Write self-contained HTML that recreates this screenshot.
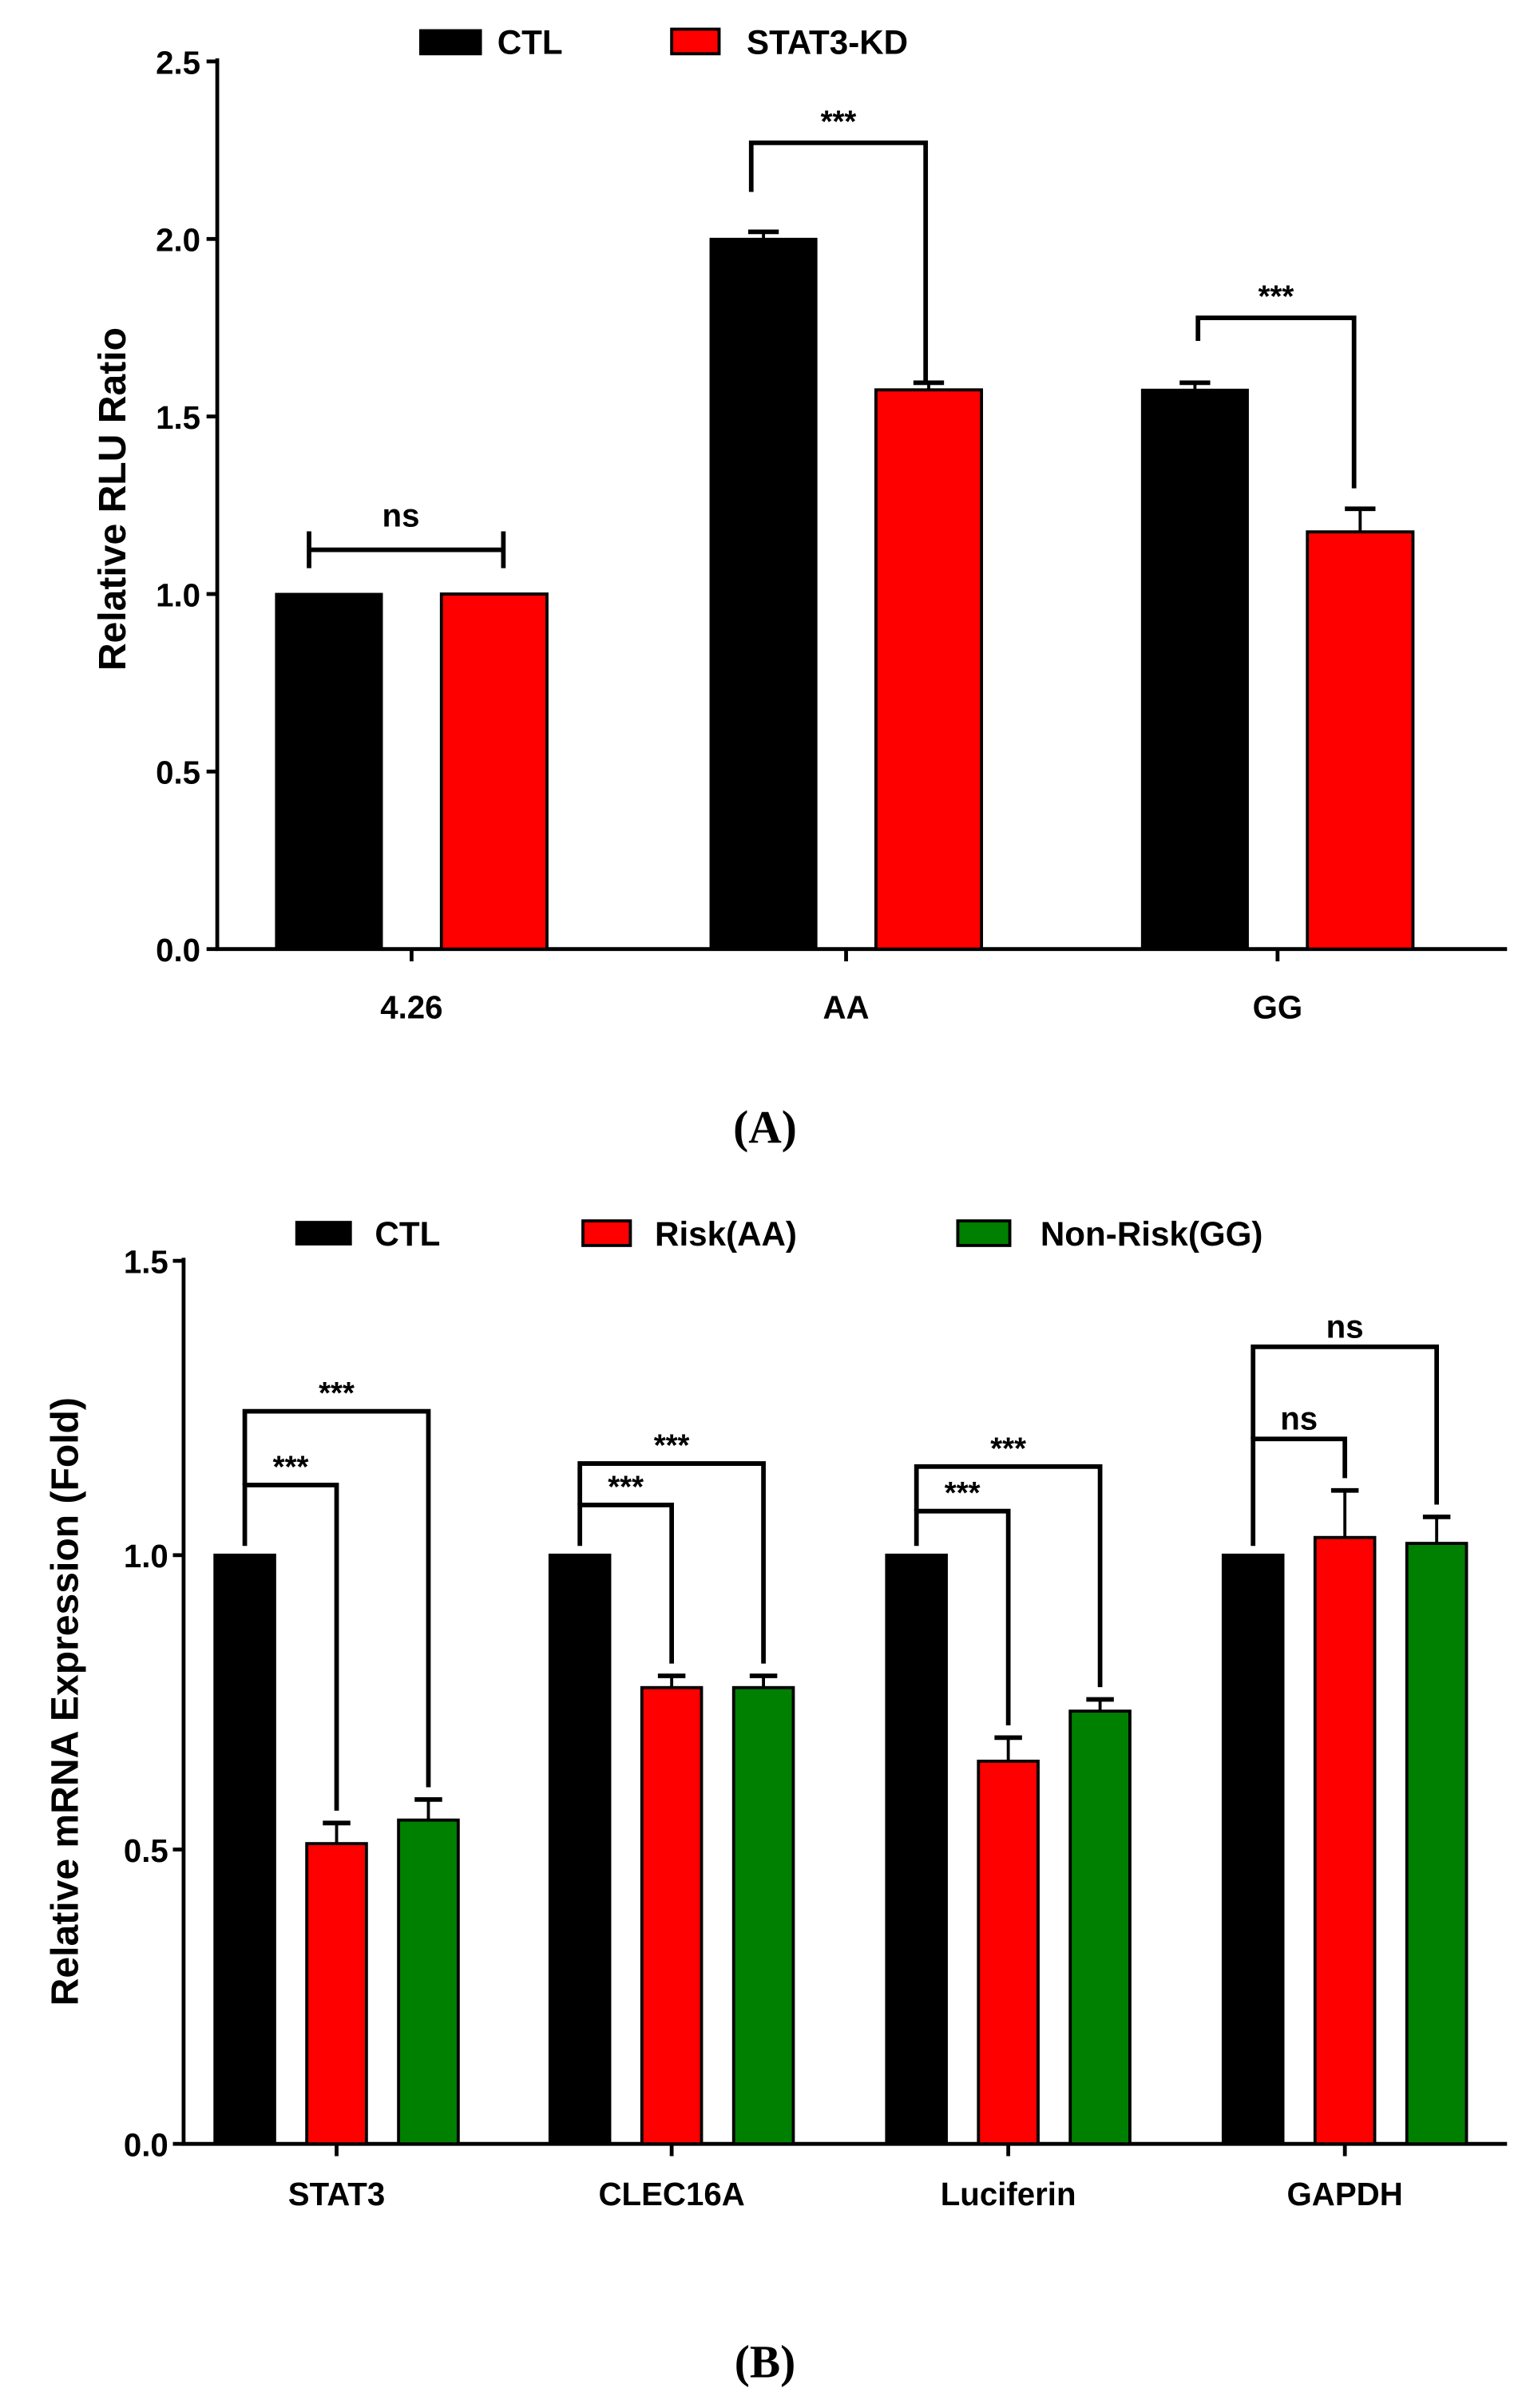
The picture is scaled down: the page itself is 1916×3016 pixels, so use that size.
<!DOCTYPE html>
<html><head><meta charset="utf-8">
<style>
html,body{margin:0;padding:0;background:#fff;}
svg{display:block;}
text{font-family:"Liberation Sans",Arial,sans-serif;font-weight:bold;fill:#000;}
.cap{font-family:"Liberation Serif",serif;font-weight:bold;}
</style></head>
<body>
<svg id="fig" width="1916" height="3016" viewBox="0 0 1000 1568" preserveAspectRatio="none" xmlns="http://www.w3.org/2000/svg"></svg>
<script>
// ---- Chart A data ----
const catsA = ["4.26","AA","GG"];
const ctlA = [1.0, 2.0, 1.575];
const ctlErrA = [0, 0.02, 0.02];
const kdA = [1.0, 1.575, 1.175];
const kdErrA = [0, 0.02, 0.065];
const ticksA = ["0.0","0.5","1.0","1.5","2.0","2.5"];
const ticksAVal = [0,0.5,1,1.5,2,2.5];
// ---- Chart B data ----
const catsB = ["STAT3","CLEC16A","Luciferin","GAPDH"];
const ctlB = [1,1,1,1];
const ctlErrB = [0,0,0,0];
const riskB = [0.51,0.775,0.65,1.03];
const riskErrB = [0.035,0.02,0.04,0.08];
const nonB = [0.55,0.775,0.735,1.02];
const nonErrB = [0.035,0.02,0.02,0.045];
const ticksB = ["0.0","0.5","1.0","1.5"];
const ticksBVal = [0,0.5,1,1.5];
const sigB1 = ["***","***","***","ns"];
const sigB2 = ["***","***","***","ns"];

const NS="http://www.w3.org/2000/svg";
const svg=document.getElementById('fig');
function mk(tag,attrs,parent){const e=document.createElementNS(NS,tag);for(const k in attrs)e.setAttribute(k,attrs[k]);(parent||svg).appendChild(e);return e;}
function txt(s,x,y,size,anchor,parent,cls){const t=mk('text',{x:x,y:y,'font-size':size,'text-anchor':anchor||'middle'},parent);if(cls)t.setAttribute('class',cls);t.textContent=s;return t;}
function line(x1,y1,x2,y2,w,parent){return mk('line',{x1,y1,x2,y2,stroke:'#000','stroke-width':w||2.5},parent);}
function poly(pts,parent){return mk('polyline',{points:pts.map(p=>p.join(',')).join(' '),fill:'none',stroke:'#000','stroke-width':3,'stroke-linejoin':'miter'},parent);}

// ===== Chart A =====
const gA=mk('g',{});


const yA=v=>618-(v/2.5)*(618-40);
const centersA=[269,553,835];
const bwA=69, offA=54;
line(142,38,142,619,2.5,gA);
line(141,618,985,618,2.5,gA);
ticksAVal.forEach((v,i)=>{line(135,yA(v),142,yA(v),2.5,gA);const t=txt(ticksA[i],131,yA(v)+8,21,'end',gA);});
catsA.forEach((c,i)=>{
  const cx=centersA[i];
  line(cx,618,cx,626,2.5,gA);
  const t=txt(c,cx,663,21,'middle',gA);
  const b1=mk('rect',{x:cx-offA-bwA/2,y:yA(ctlA[i]),width:bwA,height:yA(0)-yA(ctlA[i]),fill:'#000',stroke:'#000','stroke-width':1.5},gA);
  
  const b2=mk('rect',{x:cx+offA-bwA/2,y:yA(kdA[i]),width:bwA,height:yA(0)-yA(kdA[i]),fill:'#ff0000',stroke:'#000','stroke-width':2},gA);
  
  if(ctlErrA[i]>0){const x=cx-offA;line(x,yA(ctlA[i]),x,yA(ctlA[i]+ctlErrA[i]),2,gA);line(x-10,yA(ctlA[i]+ctlErrA[i]),x+10,yA(ctlA[i]+ctlErrA[i]),3,gA);}
  if(kdErrA[i]>0){const x=cx+offA;line(x,yA(kdA[i]),x,yA(kdA[i]+kdErrA[i]),2,gA);line(x-10,yA(kdA[i]+kdErrA[i]),x+10,yA(kdA[i]+kdErrA[i]),3,gA);}
});
// ns bracket
line(202,358,329,358,3,gA);line(202,346,202,370,3,gA);line(329,346,329,370,3,gA);
txt('ns',262,343,21,'middle',gA);
// brackets
poly([[491,125],[491,93],[605,93],[605,248]],gA);txt('***',548,86,20,'middle',gA);
poly([[783,222],[783,207],[885,207],[885,318]],gA);txt('***',834,200,20,'middle',gA);
// legend A
const lgA=mk('g',{},gA);
mk('rect',{x:274,y:19,width:41,height:17,fill:'#000'},lgA);txt('CTL',325,35,22,'start',lgA);
mk('rect',{x:439,y:19,width:31,height:16,fill:'#ff0000',stroke:'#000','stroke-width':2},lgA);txt('STAT3-KD',488,35,22,'start',lgA);
const ytA=txt('Relative RLU Ratio',0,0,25,'middle',gA);ytA.setAttribute('transform','translate(82,325) rotate(-90)');

txt('(A)',500,744,30,'middle',svg,'cap');

// ===== Chart B =====
const gB=mk('g',{});


const yB=v=>1396-(v/1.5)*(1396-821);
const centersB=[220,439,659,879];
const bwB=39, offB=60;
line(120,819,120,1397,2.5,gB);
line(119,1396,985,1396,2.5,gB);
ticksBVal.forEach((v,i)=>{line(113,yB(v),120,yB(v),2.5,gB);const t=txt(ticksB[i],110,yB(v)+8,21,'end',gB);});
const colsB=['#000','#ff0000','#008000'];
catsB.forEach((c,i)=>{
  const cx=centersB[i];
  line(cx,1396,cx,1404,2.5,gB);
  const t=txt(c,cx,1436,21,'middle',gB);
  const vals=[ctlB[i],riskB[i],nonB[i]], errs=[ctlErrB[i],riskErrB[i],nonErrB[i]];
  const names=['ctl','risk','nonrisk'];
  vals.forEach((v,j)=>{
    const x=cx+(j-1)*offB;
    const r=mk('rect',{x:x-bwB/2,y:yB(v),width:bwB,height:yB(0)-yB(v),fill:colsB[j],stroke:'#000','stroke-width':2},gB);
    
    if(errs[j]>0){line(x,yB(v),x,yB(v+errs[j]),2,gB);line(x-9,yB(v+errs[j]),x+9,yB(v+errs[j]),3,gB);}
  });
  const lx=cx-offB, rx1=cx, rx2=cx+offB;
  const inner=[967,980,984,937][i], outer=[919,953,955,877][i];
  const base=yB(1)-6;
  poly([[lx,base],[lx,inner],[rx1,inner],[rx1,yB(riskB[i]+riskErrB[i])-8]],gB);
  poly([[lx,inner],[lx,outer],[rx2,outer],[rx2,yB(nonB[i]+nonErrB[i])-8]],gB);
  const s1=sigB1[i]==='ns';
  txt(sigB1[i],(lx+rx1)/2,inner-(s1?6:5),s1?21:20,'middle',gB);
  txt(sigB2[i],(lx+rx2)/2,outer-(s1?6:5),s1?21:20,'middle',gB);
});
const lgB=mk('g',{},gB);
mk('rect',{x:193,y:795,width:37,height:16,fill:'#000'},lgB);txt('CTL',245,811,22,'start',lgB);
mk('rect',{x:381,y:795,width:31,height:16,fill:'#ff0000',stroke:'#000','stroke-width':2},lgB);txt('Risk(AA)',428,811,22,'start',lgB);
mk('rect',{x:626,y:795,width:34,height:16,fill:'#008000',stroke:'#000','stroke-width':2},lgB);txt('Non-Risk(GG)',680,811,22,'start',lgB);
const ytB=txt('Relative mRNA Expression (Fold)',0,0,25,'middle',gB);ytB.setAttribute('transform','translate(51,1108) rotate(-90)');

txt('(B)',500,1548,30,'middle',svg,'cap');
</script>
</body></html>
